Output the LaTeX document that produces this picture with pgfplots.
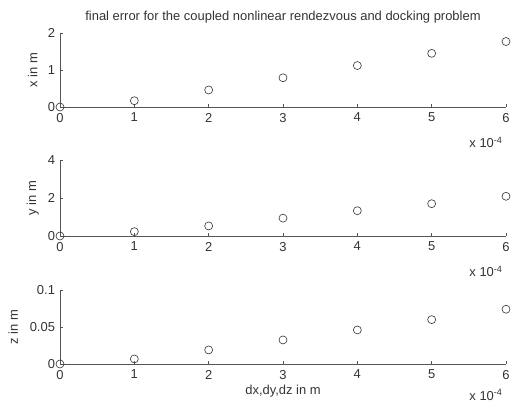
\documentclass[border=0pt]{standalone}
\usepackage{pgfplots}
\pgfplotsset{compat=1.18}
\usepackage{fontspec}
\setmainfont{Liberation Sans}

\definecolor{axisgray}{HTML}{555555}
\definecolor{textgray}{HTML}{333333}

\pgfplotstableread{
dx  ex    ey    ez
0   0.00  0.00  0.0000
1   0.17  0.23  0.0068
2   0.46  0.53  0.0190
3   0.79  0.94  0.0325
4   1.12  1.33  0.0460
5   1.45  1.70  0.0600
6   1.77  2.09  0.0740
}\errdata

\newcommand{\mlfont}{\fontsize{13}{15}\selectfont}

\pgfplotsset{
  mlaxis/.style={
    scale only axis, width=446bp, height=74bp,
    axis x line=bottom, axis y line=left,
    axis line style={-, axisgray, line width=0.6pt},
    xmin=0, xmax=6, xtick={0,...,6},
    tick align=inside, major tick length=3bp,
    tick style={axisgray, line width=0.6pt},
    every tick label/.append style={font=\mlfont, text=textgray},
    xticklabel style={yshift=-2.5bp},
    yticklabel style={xshift=-1.5bp},
    /pgf/number format/assume math mode=true,
    label style={font=\mlfont, text=textgray},
    ylabel style={at={(axis description cs:-0.061,0.5)}, anchor=center},
    clip=false,
  },
  mlmarks/.style={only marks, mark=o, mark size=4bp, mark options={textgray, line width=0.6pt}},
}

% the "x 10^-4" scale factor under the right end of the x axis
\newcommand{\scalenote}[1]{\node[anchor=base east, font=\mlfont, text=textgray]
  at (rel axis cs:1,0) [yshift=-#1] {x 10\textsuperscript{-4}};}

\begin{document}
\begin{tikzpicture}
\path[use as bounding box] (0bp,0bp) rectangle (512bp,405bp);

% x error
\begin{axis}[mlaxis, at={(60bp,298bp)}, anchor=south west,
  ymin=0, ymax=2, ytick={0,1,2}, ylabel={x in m},
  title={final error for the coupled nonlinear rendezvous and docking problem},
  title style={at={(axis description cs:0.5,1)}, anchor=base, yshift=7bp,
    font=\mlfont, text=textgray}]
\addplot[mlmarks] table[x=dx, y=ex] {\errdata};
\scalenote{41bp}
\end{axis}

% y error
\begin{axis}[mlaxis, at={(60bp,169bp)}, anchor=south west, height=76bp,
  ymin=0, ymax=4, ytick={0,2,4}, ylabel={y in m}]
\addplot[mlmarks] table[x=dx, y=ey] {\errdata};
\scalenote{41bp}
\end{axis}

% z error
\begin{axis}[mlaxis, at={(60bp,41bp)}, anchor=south west,
  ymin=0, ymax=0.1, ytick={0,0.05,0.1}, yticklabels={0,0.05,0.1},
  ylabel={z in m}, xlabel={dx,dy,dz in m},
  ylabel style={at={(axis description cs:-0.105,0.5)}},
  xlabel style={at={(axis description cs:0.5,0)}, anchor=base, yshift=-30bp}]
\addplot[mlmarks] table[x=dx, y=ez] {\errdata};
\scalenote{36bp}
\end{axis}
\end{tikzpicture}
\end{document}
